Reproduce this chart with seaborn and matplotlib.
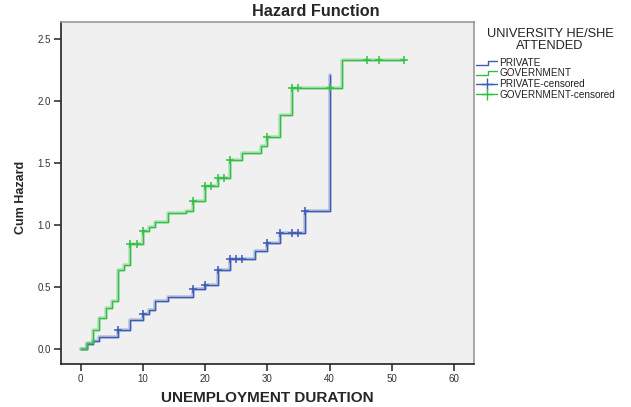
import matplotlib
matplotlib.use("Agg")
import matplotlib.pyplot as plt
import seaborn as sns
import pandas as pd
from matplotlib.lines import Line2D
from matplotlib.legend_handler import HandlerBase

# ---- data ----
groups = ["PRIVATE", "GOVERNMENT"]

private_t = [0, 1, 2, 3, 6, 8, 10, 11, 12, 14, 18, 20, 22, 24, 28, 30, 32, 36, 40]
private_h = [0.0, 0.035, 0.057, 0.093, 0.152, 0.233, 0.278, 0.308, 0.387, 0.415,
             0.484, 0.514, 0.632, 0.727, 0.79, 0.853, 0.933, 1.113, 2.205]
private_cens_t = [6, 10, 18, 20, 22, 24, 25, 26, 30, 32, 34, 35, 36]

gov_t = [0, 1, 2, 3, 4, 5, 6, 7, 8, 10, 11, 12, 14, 17, 18, 20, 22, 24, 26,
         29, 30, 32, 34, 42, 52]
gov_h = [0.0, 0.045, 0.152, 0.25, 0.325, 0.385, 0.633, 0.673, 0.845, 0.953, 0.983,
         1.018, 1.093, 1.11, 1.192, 1.315, 1.378, 1.522, 1.58, 1.635, 1.705, 1.885,
         2.105, 2.33, 2.33]
gov_cens_t = [8, 9, 10, 18, 20, 21, 22, 23, 24, 30, 34, 35, 40, 46, 48, 52]

legend_labels = ["PRIVATE", "GOVERNMENT", "PRIVATE-censored", "GOVERNMENT-censored"]
legend_title = "UNIVERSITY HE/SHE\nATTENDED"

colors = {"PRIVATE": "#3D5BB5", "GOVERNMENT": "#33BF45"}


def value_at(ts, hs, t):
    v = hs[0]
    for ti, hi in zip(ts, hs):
        if ti <= t:
            v = hi
    return v


curves = pd.concat([
    pd.DataFrame({"t": private_t, "h": private_h, "group": "PRIVATE"}),
    pd.DataFrame({"t": gov_t, "h": gov_h, "group": "GOVERNMENT"}),
])
cens = pd.concat([
    pd.DataFrame({"t": private_cens_t,
                  "h": [value_at(private_t, private_h, t) for t in private_cens_t],
                  "group": "PRIVATE"}),
    pd.DataFrame({"t": gov_cens_t,
                  "h": [value_at(gov_t, gov_h, t) for t in gov_cens_t],
                  "group": "GOVERNMENT"}),
])

# ---- style ----
sns.set_style("ticks", {"axes.facecolor": "#F0F0F0", "axes.edgecolor": "#333333"})
plt.rcParams["font.family"] = ["Liberation Sans", "DejaVu Sans"]

fig = plt.figure(figsize=(6.31, 4.07), dpi=100)
ax = fig.add_axes([60.7 / 631, 1 - 364 / 407, (474 - 60.7) / 631, (364 - 22) / 407])

for g in groups:
    sub = curves[curves.group == g]
    sns.lineplot(data=sub, x="t", y="h", ax=ax, color=colors[g], lw=2.6, alpha=0.3,
                 drawstyle="steps-post", estimator=None, sort=False, legend=False)
    sns.lineplot(data=sub, x="t", y="h", ax=ax, color=colors[g], lw=1.0,
                 drawstyle="steps-post", estimator=None, sort=False, legend=False)
    csub = cens[cens.group == g]
    sns.scatterplot(data=csub, x="t", y="h", ax=ax, color=colors[g], marker="+",
                    s=30, linewidth=1.1, legend=False, zorder=5)

ax.set_xlim(-3.2, 63.2)
ax.set_ylim(-0.125, 2.637)
ax.set_xticks([0, 10, 20, 30, 40, 50, 60])
ax.set_yticks([0.0, 0.5, 1.0, 1.5, 2.0, 2.5])
ax.set_yticklabels(["0.0", "0.5", "1.0", "1.5", "2.0", "2.5"])
ax.tick_params(axis="both", labelsize=7, colors="#333333", length=5, width=1.2,
               direction="out", pad=2)
for sp in ["left", "bottom"]:
    ax.spines[sp].set_color("#222222")
    ax.spines[sp].set_linewidth(1.2)
for sp in ["top", "right"]:
    ax.spines[sp].set_color("#999999")
    ax.spines[sp].set_linewidth(1.2)

ax.set_xlabel("UNEMPLOYMENT DURATION", fontsize=11, fontweight="bold", labelpad=5)
ax.set_ylabel("")
fig.text(0.033, 1 - 197 / 407, "Cum Hazard", rotation=90, fontsize=9, fontweight="bold",
         ha="center", va="center")
fig.text(0.5, 1 - 11 / 407, "Hazard Function", fontsize=11.7, fontweight="bold",
         ha="center", va="center")


# ---- legend with step-shaped handles ----
class StepHandler(HandlerBase):
    def create_artists(self, legend, orig_handle, xdescent, ydescent, width, height,
                       fontsize, trans):
        x0, x1 = -xdescent, -xdescent + width
        xm = x0 + width * 0.55
        ylo = -ydescent + height * 0.15
        yhi = -ydescent + height * 0.75
        l = Line2D([x0, xm, xm, x1], [ylo, ylo, yhi, yhi],
                   color=orig_handle.get_color(), lw=1.0, transform=trans)
        return [l]


h_priv = Line2D([], [], color=colors["PRIVATE"])
h_gov = Line2D([], [], color=colors["GOVERNMENT"])
h_pc = Line2D([], [], color=colors["PRIVATE"], marker="+", markersize=8, lw=1.0, mew=1.0)
h_gc = Line2D([], [], color=colors["GOVERNMENT"], marker="+", markersize=8, lw=1.0, mew=1.0)

fig.text(550 / 631, 1 - 40 / 407, legend_title, fontsize=9.2, ha="center",
         va="center", multialignment="center", linespacing=0.95, color="#222222")

leg = fig.legend([h_priv, h_gov, h_pc, h_gc], legend_labels,
                 handler_map={h_priv: StepHandler(), h_gov: StepHandler()},
                 fontsize=7.2, loc="upper left",
                 bbox_to_anchor=(475 / 631, 1 - 57 / 407),
                 frameon=False, handlelength=2.1, handletextpad=0.2,
                 labelspacing=0.05, borderaxespad=0, borderpad=0.1)
for t in leg.get_texts():
    t.set_color("#222222")

fig.savefig("out.png", dpi=100, facecolor="white")
